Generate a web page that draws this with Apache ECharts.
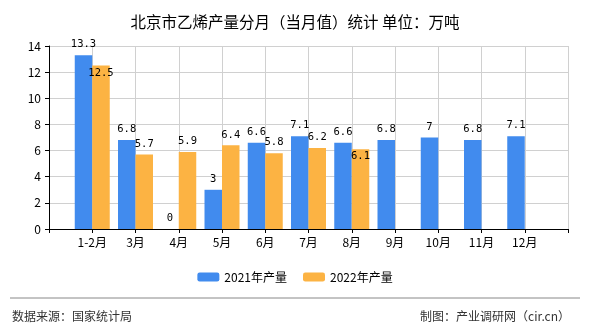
<!DOCTYPE html>
<html><head><meta charset="utf-8">
<script src="https://cdn.jsdelivr.net/npm/echarts@6/dist/echarts.min.js"></script>
<style>html,body{margin:0;padding:0;background:#fff}#c{width:590px;height:330px}</style>
</head><body><div id="c"></div>
<script>
var categories = ['', '1-2月', '3月', '4月', '5月', '6月', '7月', '8月', '9月', '10月', '11月', '12月', ''];
var values2021 = [null, 13.3, 6.8, 0, 3, 6.6, 7.1, 6.6, 6.8, 7, 6.8, 7.1, null];
var values2022 = [null, 12.5, 5.7, 5.9, 6.4, 5.8, 6.2, 6.1, null, null, null, null, null];
var yTicks = [0, 2, 4, 6, 8, 10, 12, 14];

var insideIdx2022 = [1, 7];
var labelFont = {fontFamily: 'DejaVu Sans Mono', fontSize: 10.5, color: '#000'};
function buildData(arr, insideList) {
  return arr.map(function (v, i) {
    if (insideList && insideList.indexOf(i) >= 0) {
      return {value: v, label: {position: 'insideTop', distance: 2}};
    }
    return v;
  });
}
var chart = echarts.init(document.getElementById('c'), null, {renderer: 'canvas'});
var font = 'SimSun, "Noto Sans CJK SC", sans-serif';
chart.setOption({
  animation: false,
  textStyle: {fontFamily: font},
  title: {text: '北京市乙烯产量分月（当月值）统计 单位：万吨', left: 'center', top: 9,
    textStyle: {fontSize: 15.5, fontWeight: 'normal', color: '#000', fontFamily: font}},
  legend: {bottom: 42, left: 'center', itemWidth: 22, itemHeight: 9, itemGap: 16,
    textStyle: {fontSize: 12, color: '#000', fontFamily: font}},
  grid: {left: 49, right: 22, top: 46, bottom: 101},
  xAxis: {type: 'category', data: categories, boundaryGap: false,
    axisLine: {lineStyle: {color: '#000'}},
    axisTick: {show: true, length: 4, lineStyle: {color: '#000'}},
    axisLabel: {fontSize: 12, color: '#000', margin: 7, interval: 0, fontFamily: font},
    splitLine: {show: true, lineStyle: {color: '#d0d0d0'}}},
  yAxis: {type: 'value', min: yTicks[0], max: yTicks[yTicks.length - 1], interval: 2,
    axisLine: {show: true, lineStyle: {color: '#000'}},
    axisTick: {show: true, length: 4, lineStyle: {color: '#000'}},
    axisLabel: {fontSize: 12, color: '#000', margin: 8, fontFamily: font},
    splitLine: {show: true, lineStyle: {color: '#d0d0d0'}}},
  series: [
    {name: '2021年产量', type: 'bar', data: buildData(values2021), barWidth: 17.5, barGap: '0%',
      itemStyle: {color: '#418bee'},
      label: Object.assign({show: true, position: 'top', distance: 5}, labelFont)},
    {name: '2022年产量', type: 'bar', data: buildData(values2022, insideIdx2022), barWidth: 17.5, barGap: '0%',
      itemStyle: {color: '#fcb343'},
      label: Object.assign({show: true, position: 'top', distance: 5}, labelFont)}
  ],
  graphic: [
    {type: 'line', shape: {x1: 10, y1: 298, x2: 580, y2: 298}, style: {stroke: '#888', lineWidth: 1}},
    {type: 'text', left: 12, top: 310, style: {text: '数据来源：国家统计局', fontSize: 12, fill: '#333', fontFamily: font}},
    {type: 'text', right: 20, top: 310, style: {text: '制图：产业调研网（cir.cn）', fontSize: 12, fill: '#333', fontFamily: font}}
  ]
});
</script></body></html>
